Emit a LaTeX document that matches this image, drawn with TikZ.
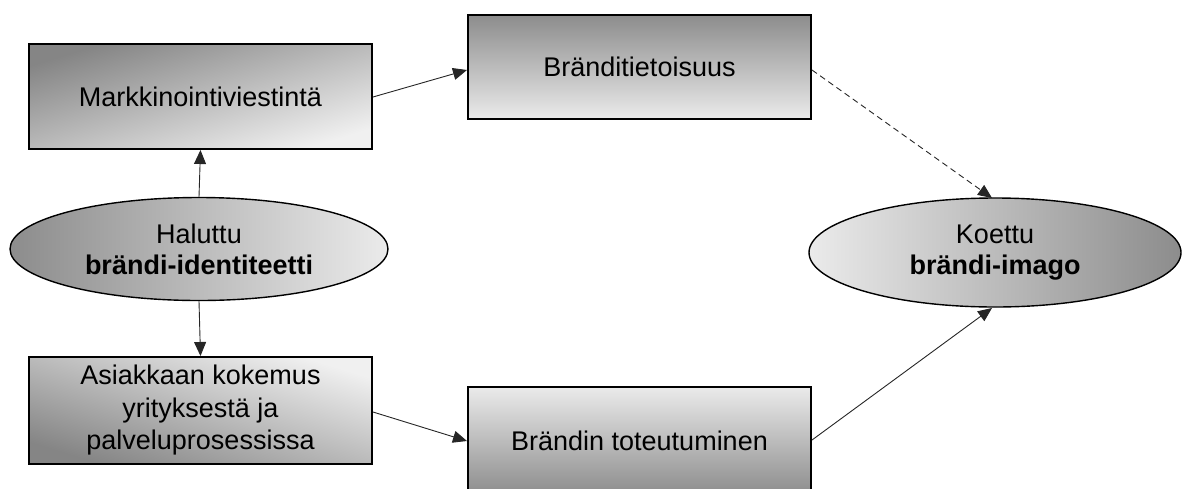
\documentclass[tikz,border=0pt]{standalone}
\usepackage{fontspec}
\setmainfont{Liberation Sans}
\usetikzlibrary{shapes.geometric,arrows.meta}
\definecolor{dk}{gray}{0.55}
\definecolor{lt}{gray}{0.92}
\definecolor{dkd}{gray}{0.52}
\definecolor{ltd}{gray}{0.94}
\tikzset{
  box/.style={draw=black, line width=2pt, minimum width=343pt, inner sep=0pt, align=center,
    font=\fontsize{27}{32.5}\selectfont},
  oval/.style={ellipse, draw=black, line width=1.4pt, inner sep=0pt, align=center,
    font=\fontsize{27}{31}\selectfont},
  conn/.style={-{Triangle[length=14pt,width=12pt]}, line width=0.9pt, draw=black!85},
}
\begin{document}
\begin{tikzpicture}[x=1pt,y=-1pt]
\useasboundingbox (0,0) rectangle (1182,488);
\node[box, minimum height=105pt, top color=dkd, bottom color=ltd, shading angle=17] (mk) at (200.5,96.5) {Markkinointiviestintä};
\node[box, minimum height=104pt, top color=dk, bottom color=lt] (bt) at (639.5,67) {Bränditietoisuus};
\node[oval, minimum width=378pt, minimum height=103pt, left color=dk, right color=lt] (hi) at (199,249) {Haluttu\\\textbf{brändi-identiteetti}};
\node[box, minimum height=107pt, top color=ltd, bottom color=dkd, shading angle=-17] (ak) at (200.5,410.5) {Asiakkaan kokemus\\yrityksestä ja\\palveluprosessissa};
\node[box, minimum height=108pt, top color=lt, bottom color=dk] (bto) at (639.5,441) {Brändin toteutuminen};
\node[oval, minimum width=372pt, minimum height=109pt, left color=lt, right color=dk] (ki) at (995,252.5) {Koettu\\\textbf{brändi-imago}};
\coordinate (kitop) at (992,198);
\coordinate (kibot) at (992,308);
\draw[conn] (hi.north) -- (mk.south);
\draw[conn] (hi.south) -- (ak.north);
\draw[conn] (mk.east |- 0,97) -- (bt.west |- 0,70);
\draw[conn] (ak.east |- 0,412) -- (bto.west |- 0,441);
\draw[conn, dashed, dash pattern=on 6pt off 4pt] (bt.east |- 0,70) -- (kitop);
\draw[conn] (bto.east |- 0,440) -- (kibot);
\end{tikzpicture}
\end{document}
